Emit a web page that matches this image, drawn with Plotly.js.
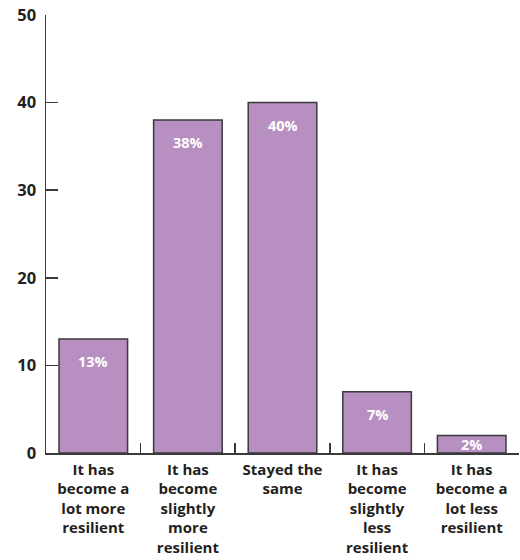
<!DOCTYPE html>
<html>
<head>
<meta charset="utf-8">
<script src="https://cdn.plot.ly/plotly-3.0.1.min.js"></script>
<style>html,body{margin:0;padding:0;background:#fff;}#chart{width:520px;height:560px;}</style>
</head>
<body>
<div id="chart"></div>
<script>
const categories = [
  "It has<br>become a<br>lot more<br>resilient",
  "It has<br>become<br>slightly<br>more<br>resilient",
  "Stayed the<br>same",
  "It has<br>become<br>slightly<br>less<br>resilient",
  "It has<br>become a<br>lot less<br>resilient"
];
const values = [13, 38, 40, 7, 2];
const valueLabels = ["13%", "38%", "40%", "7%", "2%"];
const yTicks = [0, 10, 20, 30, 40, 50];

const FONT = "'Open Sans', 'DejaVu Sans', sans-serif";

const trace = {
  type: "bar",
  x: categories,
  y: values,
  marker: { color: "#b88fc1", line: { color: "#3a3a3a", width: 1.5 } },
  hoverinfo: "none"
};

const annotations = values.map((v, i) => ({
  x: categories[i],
  y: Math.max(v - 2.6, v / 2),
  xref: "x", yref: "y",
  text: valueLabels[i],
  showarrow: false,
  yanchor: "middle",
  font: { family: FONT, size: 14.5, color: "#ffffff", weight: 700 }
}));

const layout = {
  width: 520, height: 560,
  margin: { l: 46, r: 1, t: 15, b: 107 },
  paper_bgcolor: "#ffffff",
  plot_bgcolor: "#ffffff",
  bargap: 0.275,
  showlegend: false,
  font: { family: FONT, color: "#231f20" },
  xaxis: {
    type: "category",
    showline: true, linecolor: "#3a3a3a", linewidth: 1.5,
    ticks: "inside", tickson: "boundaries", ticklen: 10, tickcolor: "#3a3a3a", tickwidth: 1.5,
    showgrid: false, zeroline: false,
    tickfont: { family: FONT, size: 15, color: "#231f20", weight: 700 },
    tickangle: 0,
    ticklabelstandoff: 2,
    automargin: false
  },
  yaxis: {
    range: [0, 50],
    tickvals: yTicks,
    ticktext: yTicks.map(String),
    showline: true, linecolor: "#3a3a3a", linewidth: 1.5,
    ticks: "inside", ticklen: 12, tickcolor: "#3a3a3a", tickwidth: 1.5,
    showgrid: false, zeroline: false,
    tickfont: { family: FONT, size: 16.5, color: "#231f20", weight: 700 },
    ticklabelstandoff: 5,
    automargin: false
  },
  annotations: annotations
};

Plotly.newPlot("chart", [trace], layout, { staticPlot: true, displayModeBar: false });
</script>
</body>
</html>
